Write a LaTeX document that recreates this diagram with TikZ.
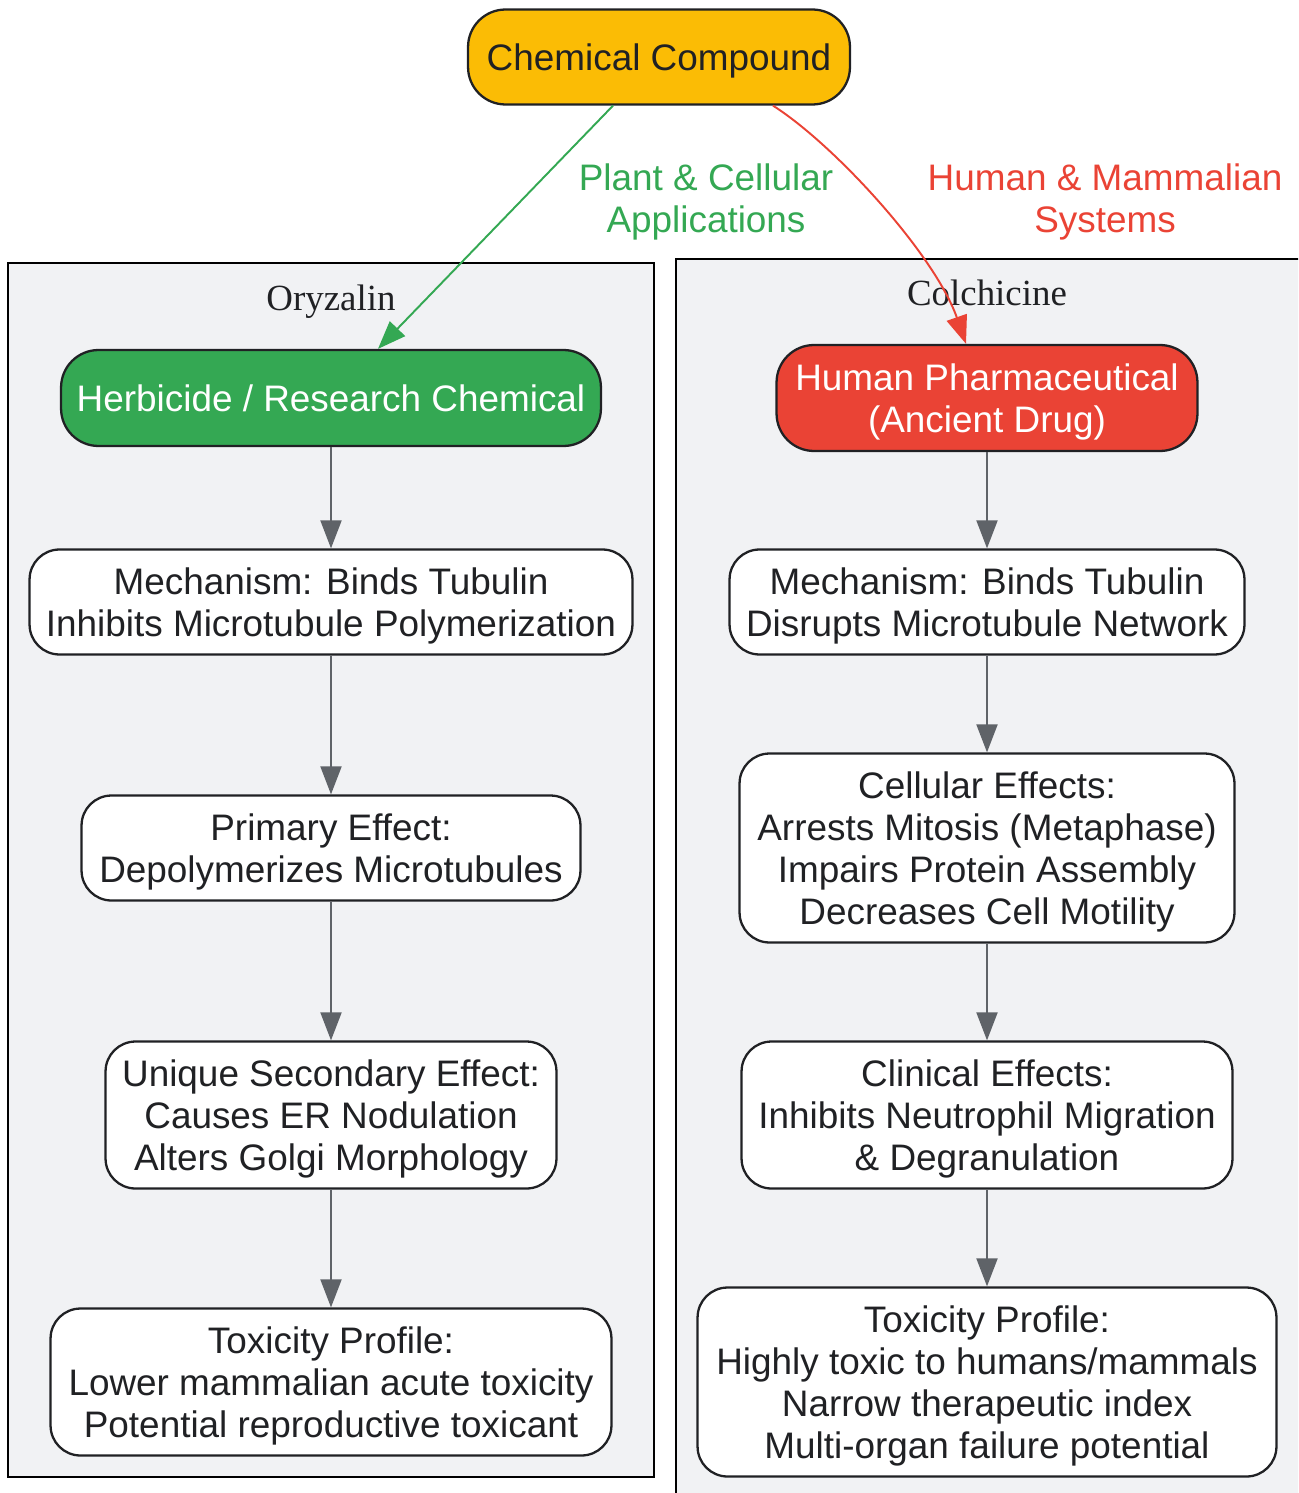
\documentclass[tikz,border=0pt]{standalone}
\usepackage{fontspec}
\setmainfont{Liberation Sans}
\newfontfamily\clusterfont{Liberation Serif}
\usetikzlibrary{arrows.meta,positioning}
\definecolor{ink}{HTML}{202124}
\definecolor{compound}{HTML}{FBBC05}
\definecolor{plantgreen}{HTML}{34A853}
\definecolor{humanred}{HTML}{EA4335}
\definecolor{flowgray}{HTML}{5F6368}
\definecolor{clusterbg}{HTML}{F1F2F4}
\begin{document}
\begin{tikzpicture}[
			x=0.02cm, y=-0.02cm,
			box/.style={draw=ink, line width=1.3pt, rounded corners=0.6cm, fill=white, text=ink, align=center, inner sep=0pt, text depth=0pt, font=\fontsize{21}{23.8}\selectfont},
			topbox/.style={box, rounded corners=0.75cm},
			flow/.style={draw=flowgray, line width=1.1pt, -{Triangle[length=16pt,width=12pt]}},
			branch/.style={line width=1.1pt, -{Triangle[length=16pt,width=12pt]}},
			cluster/.style={draw=black, line width=1.4pt, fill=clusterbg},
			clustertitle/.style={font=\clusterfont\fontsize{21}{24}\selectfont, text=ink, text depth=0pt},
			branchlabel/.style={align=center, inner sep=0pt, text depth=0pt, font=\fontsize{21}{23.8}\selectfont}
		]
		\useasboundingbox (0,0) rectangle (1298,1493);
		\clip (0,0) rectangle (1298,1493);

		\draw[cluster] (8,263) rectangle (654,1477);
		\draw[cluster] (676,259) rectangle (1320,1520);
		\node[clustertitle] (oryzalin) at (331,298) {Oryzalin};
		\node[clustertitle] (colchicine) at (987,293) {Colchicine};

		\node[topbox, fill=compound, minimum width=7.64cm, minimum height=1.9cm] (compound) at (659,57) {Chemical Compound};

		\node[topbox, fill=plantgreen, text=white, minimum width=10.8cm, minimum height=1.92cm] (herbicide) at (331,398) {Herbicide / Research Chemical};
		\node[box, minimum width=12.06cm, minimum height=2.1cm] (mechleft) at (331,602) {Mechanism: Binds Tubulin\\Inhibits Microtubule Polymerization};
		\node[box, minimum width=9.98cm, minimum height=2.1cm] (primary) at (331,848) {Primary Effect:\\Depolymerizes Microtubules};
		\node[box, minimum width=9.02cm, minimum height=2.94cm] (secondary) at (331,1115) {Unique Secondary Effect:\\Causes ER Nodulation\\Alters Golgi Morphology};
		\node[box, minimum width=11.22cm, minimum height=2.94cm] (toxleft) at (331,1382) {Toxicity Profile:\\Lower mammalian acute toxicity\\Potential reproductive toxicant};

		\node[topbox, fill=humanred, text=white, minimum width=8.42cm, minimum height=2.12cm] (pharma) at (987,398) {Human Pharmaceutical\\(Ancient Drug)};
		\node[box, minimum width=10.3cm, minimum height=2.1cm] (mechright) at (987,602) {Mechanism: Binds Tubulin\\Disrupts Microtubule Network};
		\node[box, minimum width=9.9cm, minimum height=3.78cm] (cellular) at (987,848) {Cellular Effects:\\Arrests Mitosis (Metaphase)\\Impairs Protein Assembly\\Decreases Cell Motility};
		\node[box, minimum width=9.82cm, minimum height=2.94cm] (clinical) at (987,1115) {Clinical Effects:\\Inhibits Neutrophil Migration\\\& Degranulation};
		\node[box, minimum width=11.58cm, minimum height=3.78cm] (toxright) at (987,1382) {Toxicity Profile:\\Highly toxic to humans/mammals\\Narrow therapeutic index\\Multi-organ failure potential};

		\node[branchlabel, text=plantgreen] (plantlabel) at (706,198) {Plant \& Cellular\\Applications};
		\node[branchlabel, text=humanred] (humanlabel) at (1105,198) {Human \& Mammalian\\Systems};

		\draw[flow] (herbicide) -- (mechleft);
		\draw[flow] (mechleft) -- (primary);
		\draw[flow] (primary) -- (secondary);
		\draw[flow] (secondary) -- (toxleft);

		\draw[flow] (pharma) -- (mechright);
		\draw[flow] (mechright) -- (cellular);
		\draw[flow] (cellular) -- (clinical);
		\draw[flow] (clinical) -- (toxright);

		\draw[branch, draw=plantgreen, fill=plantgreen] ([xshift=-0.92cm]compound.south) -- ([xshift=0.94cm]herbicide.north);
		\draw[branch, draw=humanred] ([xshift=2.28cm]compound.south) .. controls (835,145) and (935,255) .. ([xshift=-0.42cm]pharma.north);
	\end{tikzpicture}
\end{document}
